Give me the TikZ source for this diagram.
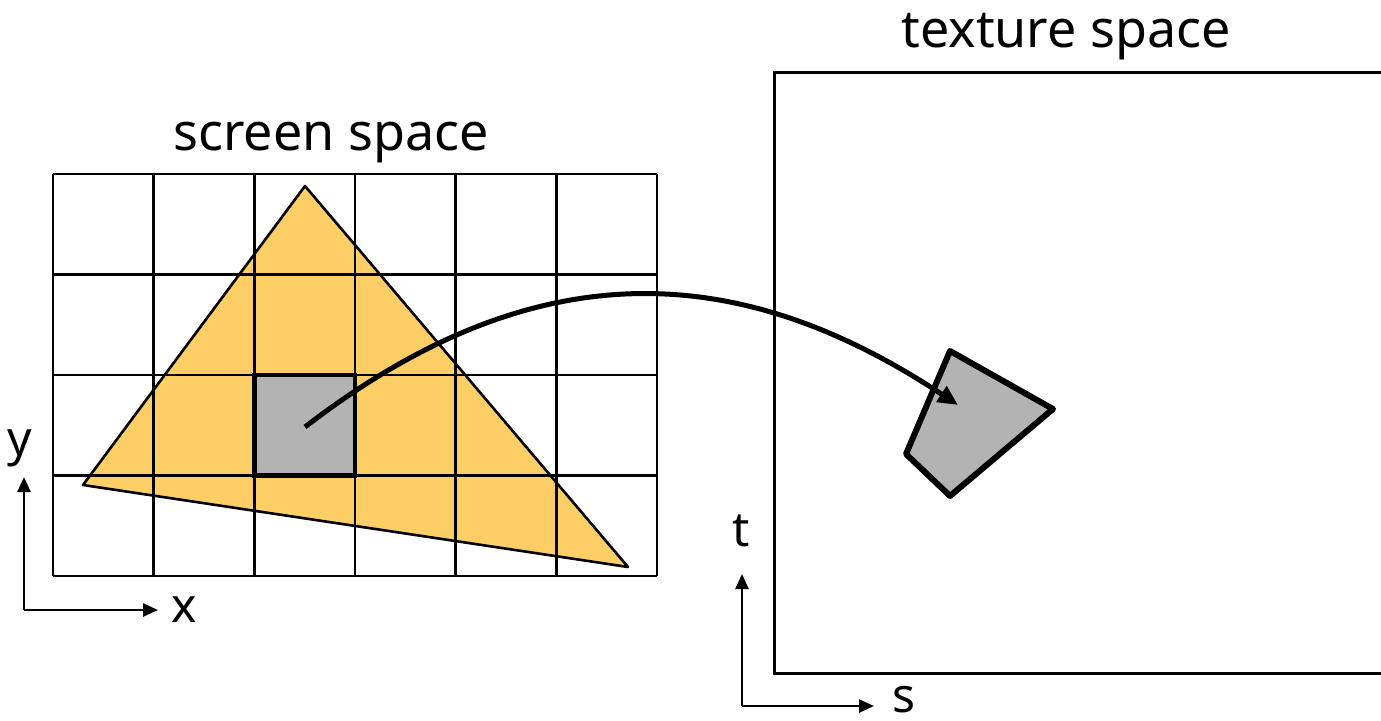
\documentclass[tikz,border=0pt]{standalone}
\usepackage{fontspec}
\setmainfont{Noto Sans}
\usetikzlibrary{arrows.meta}
\definecolor{tri}{RGB}{253,206,102}
\definecolor{cellgray}{RGB}{179,179,179}
\tikzset{
  gridline/.style={line width=2.6pt, black},
  label/.style={font=\fontsize{52}{60}\selectfont, inner sep=0pt, anchor=base},
  axislabel/.style={font=\fontsize{48}{56}\selectfont, inner sep=0pt, anchor=base},
  axisarrow/.style={line width=2.5pt, -{Triangle[length=15pt,width=13pt]}},
  maparrow/.style={line width=5pt, -{Triangle[length=20pt,width=18pt]}},
}
\begin{document}
\begin{tikzpicture}[x=1pt,y=-1pt]
\useasboundingbox (0,0) rectangle (1381,720);
\fill[white] (0,0) rectangle (1381,720);
% triangle
\coordinate (A) at (305,186);
\coordinate (B) at (83,485);
\coordinate (C) at (628,567);
\filldraw[fill=tri, draw=black, line width=2.6pt, line join=round] (A) -- (B) -- (C) -- cycle;
% grid
\foreach \x in {53,153.67,254.33,355,455.67,556.33,657} {
  \draw[gridline] (\x,174) -- (\x,576);
}
\foreach \y in {174,274.5,375,475.5,576} {
  \draw[gridline] (53,\y) -- (657,\y);
}
% highlighted pixel
\filldraw[fill=cellgray, draw=black, line width=4.5pt] (254.33,375) rectangle (355,475.5);
\coordinate (P) at (305,427);
% texture space box
\draw[line width=3pt] (1400,72) -- (774,72) -- (774,673) -- (1400,673);
% footprint quad
\filldraw[fill=cellgray, draw=black, line width=6pt, line join=round]
  (950,351) -- (1053,409) -- (950,496) -- (906,454) -- cycle;
\coordinate (Q) at (958,405);
% mapping arrow
\draw[maparrow] (P) .. controls (541,245) and (745,264) .. (Q);
% labels
\node[label] (ss) at (331,150) {screen space};
\node[label] (ts) at (1066,47) {texture space};
% screen axes
\coordinate (O1) at (24,610);
\coordinate (Y1) at (24,477);
\coordinate (X1) at (158,610);
\draw[axisarrow] (O1) -- (Y1);
\draw[axisarrow] (O1) -- (X1);
\node[axislabel] (ly) at (20,455) {y};
\node[axislabel] (lx) at (184,622) {x};
% texture axes
\coordinate (O2) at (742,706);
\coordinate (T2) at (742,574);
\coordinate (S2) at (874,706);
\draw[axisarrow] (O2) -- (T2);
\draw[axisarrow] (O2) -- (S2);
\node[axislabel] (lt) at (741,546) {t};
\node[axislabel] (ls) at (904,712) {s};
\end{tikzpicture}
\end{document}
